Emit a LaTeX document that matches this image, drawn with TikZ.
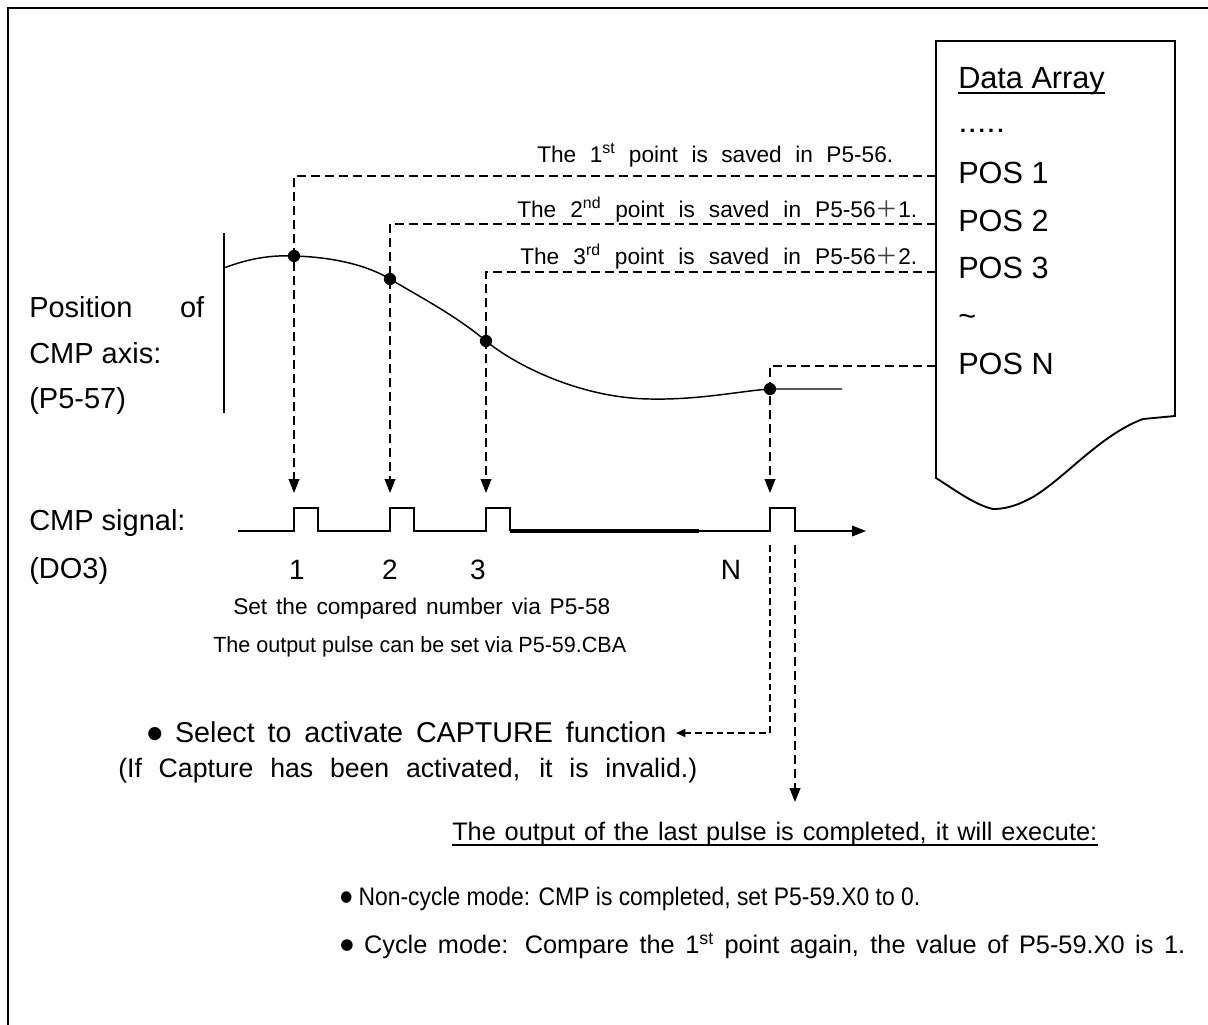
\documentclass[tikz,border=0pt]{standalone}
\usepackage{fontspec}
\setmainfont{Liberation Sans}
\newfontfamily\cjkf{Noto Sans CJK SC}
\newfontfamily\symf{DejaVu Sans}
\usepackage{graphicx}
\usetikzlibrary{arrows.meta}
\newsavebox\fitbox
\newdimen\fitunit \fitunit=0.75pt
% scale text horizontally to a width given in px
\newcommand\fitto[2]{\sbox\fitbox{#2}\pgfmathsetmacro\fitsc{#1*0.75/\the\wd\fitbox}\scalebox{\fitsc}[1]{\usebox\fitbox}}
% spread interword spaces to a width in px (scale if too wide)
\newcommand\spreadto[2]{\sbox\fitbox{#2}\ifdim\wd\fitbox<#1\fitunit\makebox[#1\fitunit][s]{#2}\else\fitto{#1}{#2}\fi}
\newcommand\setfs[1]{\fontsize{#1pt}{#1pt}\selectfont}
\newcommand\bul{{\symf\raisebox{2.4pt}{\scalebox{0.6}{●}}}}
\newcommand\pls{{\cjkf\color{black!75}＋}}
\begin{document}
\begin{tikzpicture}[x=0.75pt,y=-0.75pt,
  txt/.style={inner sep=0pt, anchor=base west},
  ctxt/.style={inner sep=0pt, anchor=base},
  dl/.style={dash pattern=on 6.75pt off 3.75pt, line width=1.4pt},
  dlf/.style={dash pattern=on 5pt off 3pt, line width=1.1pt},
  tip/.style={-{Triangle[length=10.5pt,width=8pt]}},
  smalltip/.style={-{Triangle[length=7pt,width=6pt]}},
  wave/.style={line width=1.1pt}]
\useasboundingbox (0,0) rectangle (1208,1025);
% outer frame
\draw[line width=1.6pt] (8,1025) -- (8,8) -- (1208,8);

% data array sheet
\draw[line width=1.4pt] (936,41) -- (1175,41) -- (1175,416) -- (1143,419)
  .. controls (1100,435) and (1065,478) .. (1033,497)
  .. controls (1015,507) and (1003,509) .. (993,509)
  .. controls (975,505) and (955,490) .. (936,478) -- cycle;
\node[txt] (da) at (958,88) {\setfs{23}Data Array};
\draw[line width=1.1pt] ([yshift=-3.8pt]da.base west) -- ([yshift=-3.8pt]da.base east);
\node[txt] (dots) at (958,132) {\setfs{23}\fitto{47}{.....}};
\node[txt] (pos1) at (958,183) {\setfs{23}POS 1};
\node[txt] (pos2) at (958,231) {\setfs{23}POS 2};
\node[txt] (pos3) at (958,278) {\setfs{23}POS 3};
\node[txt] (til) at (958,326) {\setfs{23}\textasciitilde};
\node[txt] (posN) at (958,374) {\setfs{23}POS N};
\coordinate (e1) at (936,176);
\coordinate (e2) at (936,224);
\coordinate (e3) at (936,272);
\coordinate (eN) at (936,366);

% labels over the dashed lines
\node[txt] (l1) at (537,162) {\setfs{17}\spreadto{356}{The 1\textsuperscript{st} point is saved in P5-56.}};
\node[txt] (l2) at (517,217) {\setfs{17}\spreadto{400}{The 2\textsuperscript{nd} point is saved in P5-56\pls1.}};
\node[txt] (l3) at (520,264) {\setfs{17}\spreadto{397}{The 3\textsuperscript{rd} point is saved in P5-56\pls2.}};

% left labels
\node[txt] (posof) at (29,317) {\setfs{21.75}\hbox to 131.25pt{Position\hfill of}};
\node[txt] (cmpax) at (29,363) {\setfs{21.75}CMP axis:};
\node[txt] (p557) at (29,408) {\setfs{21.75}(P5-57)};
\node[txt] (cmpsig) at (29,530) {\setfs{21.75}CMP signal:};
\node[txt] (do3) at (29,578) {\setfs{21.75}(DO3)};

% axis and curve
\draw[line width=1.2pt] (224,233) -- (224,413);
\coordinate (p1) at (294,256);
\coordinate (p2) at (390,279);
\coordinate (p3) at (486,341);
\coordinate (pN) at (770,389);
\draw[wave] (224,268) .. controls (250,258) and (272,255) .. (p1)
  .. controls (330,257) and (365,264) .. (p2)
  .. controls (420,297) and (455,315) .. (p3)
  .. controls (515,365) and (580,398) .. (650,399)
  .. controls (700,400) and (740,391) .. (pN) -- (842,389);

% dashed connectors from the array
\coordinate (t1) at (294,493);
\coordinate (t2) at (390,493);
\coordinate (t3) at (486,493);
\coordinate (tN) at (770,493);
\draw[dl,tip] (e1) -| (t1);
\draw[dl,tip] (e2) -| (t2);
\draw[dl,tip] (e3) -| (t3);
\draw[dl,tip] (eN) -| (tN);
\foreach \p in {p1,p2,p3,pN} \fill (\p) circle[radius=4.6pt];

% CMP signal
\draw[wave] (238,531) -- (294,531) |- (318,508) -- (318,531) -- (390,531) |- (414,508) -- (414,531) -- (486,531) |- (510,508) -- (510,531);
\draw[line width=2.4pt] (510,531) -- (699,531);
\draw[wave,tip] (699,531) -- (770,531) |- (795,508) -- (795,531) -- (866,531);
\node[ctxt] (n1) at (297,579) {\setfs{21}1};
\node[ctxt] (n2) at (390,579) {\setfs{21}2};
\node[ctxt] (n3) at (478,579) {\setfs{21}3};
\node[ctxt] (nN) at (731,579) {\setfs{21}N};

% texts under the signal
\node[txt] (setcmp) at (233,614) {\setfs{17}\spreadto{377}{Set the compared number via P5-58}};
\node[txt] (outp) at (213,652) {\setfs{16.5}\spreadto{413}{The output pulse can be set via P5-59.CBA}};
\node[txt] (sel) at (147,742) {\setfs{21.5}\spreadto{519}{\bul\ Select to activate CAPTURE function}};
\node[txt] (ifcap) at (118,777) {\setfs{20}\spreadto{579}{(If Capture has been activated, it is invalid.)}};

% branches from the last pulse
\coordinate (f0) at (770,545);
\coordinate (f1) at (676,733);
\draw[dlf,smalltip] (f0) |- (f1);
\coordinate (g0) at (795,545);
\coordinate (g1) at (795,802);
\draw[dl,tip] (g0) -- (g1);

% final texts
\node[txt] (last) at (452,840) {\setfs{19}\spreadto{645}{The output of the last pulse is completed, it will execute:}};
\draw[line width=1.1pt] ([yshift=-3.6pt]last.base west) -- ([yshift=-3.6pt]last.base east);
\node[txt] (noncyc) at (340,905) {\setfs{19}\spreadto{580}{\bul\ Non-cycle mode: CMP is completed, set P5-59.X0 to 0.}};
\node[txt] (cyc) at (340,953) {\setfs{19}\spreadto{845}{\bul\ Cycle mode: Compare the 1\textsuperscript{st} point again, the value of P5-59.X0 is 1.}};
\end{tikzpicture}
\end{document}
